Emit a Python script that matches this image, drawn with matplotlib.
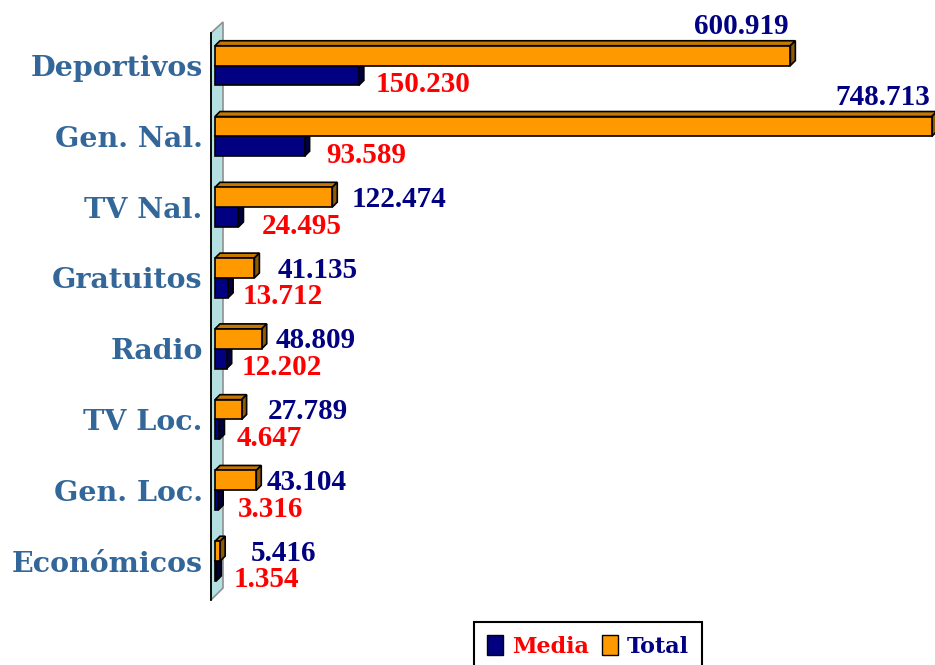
import numpy as np
import matplotlib
matplotlib.use('Agg')
from matplotlib import pyplot as plt
from matplotlib.patches import Polygon, Patch

categories = ['Deportivos', 'Gen. Nal.', 'TV Nal.', 'Gratuitos', 'Radio', 'TV Loc.', 'Gen. Loc.', 'Económicos']
total = [600919, 748713, 122474, 41135, 48809, 27789, 43104, 5416]
media = [150230, 93589, 24495, 13712, 12202, 4647, 3316, 1354]

# small per-label nudges (pixels) for the value labels
total_nudge = [0, 0, 0, 4, -5, 7, -9, 12]
media_nudge = [0, 5, 6, -3, -2, 0, 3, 0]

navy = '#000080'
orange = '#FF9900'
cat_color = '#336699'

fig = plt.figure(figsize=(9.35, 6.65), dpi=100)
W, H = 935, 665
ax = fig.add_axes([215 / W, 1 - 600 / H, 720 / W, 567 / H])
ax.set_xlim(0, 752000)
ax.set_ylim(7.55, -0.46)
for s in ax.spines.values():
    s.set_visible(False)
ax.set_xticks([])

y = np.arange(len(categories))
h = 0.28

# pixel -> data helper (valid since limits and axes position are fixed)
inv = ax.transData.inverted()
def px(dx, dy):
    a = inv.transform((0, 0))
    b = inv.transform((dx, dy))
    return b[0] - a[0], b[1] - a[1]

# side wall of the 3d chart
wx0, _ = px(-4, 0)
wx1, _ = px(8, 0)
_, up = px(0, 11)
_, up2 = px(0, 12)
wall = [(wx0, -0.46), (wx1, -0.46 + up), (wx1, 7.55 + up2), (wx0, 7.55)]
ax.add_patch(Polygon(wall, closed=True, facecolor='#B5E0E2', edgecolor='#909090',
                     lw=1.2, clip_on=False, zorder=1))
ax.plot([wx0, wx0], [-0.46, 7.55], color='black', lw=1.3, clip_on=False, zorder=1.5)

media_bars = ax.barh(y + h / 2, media, height=h, color=navy, edgecolor='black', lw=1.2,
                     zorder=3, clip_on=False)
total_bars = ax.barh(y - h / 2, total, height=h, color=orange, edgecolor='black', lw=1.2,
                     zorder=5, clip_on=False)

ddx, ddy = px(5, 5)

def faces(bars, top_col, side_col, z):
    for b in bars:
        x0, y0 = b.get_x(), b.get_y()
        w, hh = b.get_width(), b.get_height()
        top = [(x0, y0), (x0 + w, y0), (x0 + w + ddx, y0 + ddy), (x0 + ddx, y0 + ddy)]
        side = [(x0 + w, y0), (x0 + w, y0 + hh), (x0 + w + ddx, y0 + hh + ddy), (x0 + w + ddx, y0 + ddy)]
        ax.add_patch(Polygon(top, closed=True, facecolor=top_col, edgecolor='black', lw=1.2,
                             zorder=z, clip_on=False))
        ax.add_patch(Polygon(side, closed=True, facecolor=side_col, edgecolor='black', lw=1.2,
                             zorder=z, clip_on=False))

faces(media_bars, '#00005A', '#000040', 2.5)
faces(total_bars, '#C47800', '#8F5A00', 4.5)

def fmt(v):
    return f'{v:,}'.replace(',', '.')

num_font = dict(family='Liberation Serif', fontweight='bold', fontsize=21)

for i, (t, m) in enumerate(zip(total, media)):
    if t > 500000:
        ax.annotate(fmt(t), xy=(t, i - h), xytext=(-2, 12), textcoords='offset pixels',
                    ha='right', va='baseline', color=navy, **num_font)
    else:
        ax.annotate(fmt(t), xy=(t, i - h / 2), xytext=(19 + total_nudge[i], -2),
                    textcoords='offset pixels', ha='left', va='center', color=navy, **num_font)
    ax.annotate(fmt(m), xy=(m, i + h / 2), xytext=(17 + media_nudge[i], -9),
                textcoords='offset pixels', ha='left', va='center', color='red', **num_font)

ax.set_yticks(y, categories)
ax.tick_params(axis='y', length=0, pad=9)
for lab in ax.get_yticklabels():
    lab.set_fontfamily('DejaVu Serif')
    lab.set_fontweight('heavy')
    lab.set_fontsize(20.5)
    lab.set_color(cat_color)

handles = [Patch(facecolor=navy, edgecolor='black'), Patch(facecolor=orange, edgecolor='black')]
leg = fig.legend(handles, ['Media', 'Total'], loc='upper center',
                 bbox_to_anchor=(588 / W, 1 - 622 / H), ncol=2, frameon=True,
                 fancybox=False, edgecolor='black', framealpha=1,
                 prop=dict(family='DejaVu Serif', weight='bold', size=16),
                 handlelength=0.7, handleheight=1.0, handletextpad=0.4,
                 columnspacing=0.6, borderpad=0.6, borderaxespad=0)
leg.get_frame().set_linewidth(1.5)
leg.get_texts()[0].set_color('red')
leg.get_texts()[1].set_color(navy)

fig.savefig('out.png', dpi=100)
